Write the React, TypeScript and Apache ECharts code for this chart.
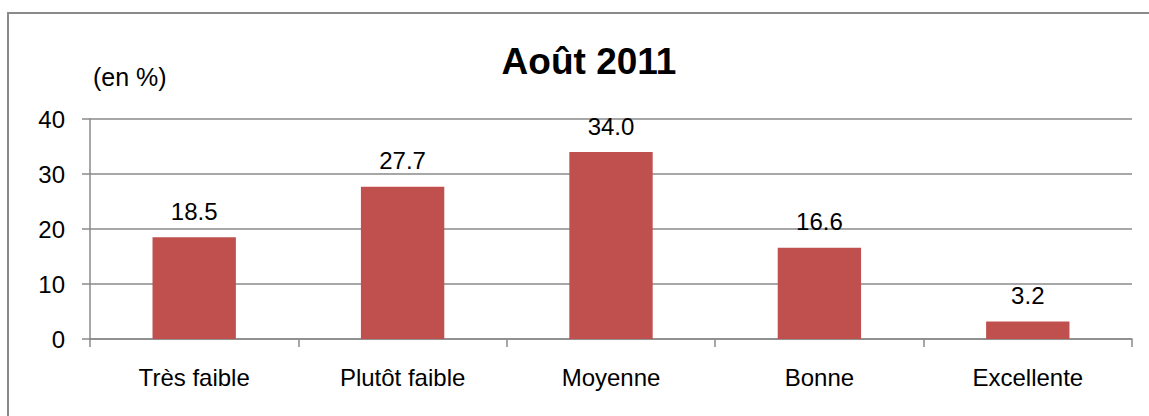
import React, { useEffect, useRef } from "react";
import * as echarts from "echarts";

const titleText = "Août 2011";
const unitText = "(en %)";
const categories = ["Très faible", "Plutôt faible", "Moyenne", "Bonne", "Excellente"];
const values = [18.5, 27.7, 34.0, 16.6, 3.2];
const yTicks = { min: 0, max: 40, interval: 10 };

const FONT = "'Liberation Sans', Arial, sans-serif";

export default function App() {
  const ref = useRef<HTMLDivElement>(null);
  useEffect(() => {
    document.body.style.margin = "0";
    if (!ref.current) return;
    const chart = echarts.init(ref.current, null, { renderer: "svg" });
    chart.setOption({
      animation: false,
      backgroundColor: "#ffffff",
      textStyle: { fontFamily: FONT },
      title: {
        text: titleText,
        left: 584,
        textAlign: "center",
        top: 38,
        textStyle: { fontSize: 37, fontWeight: "bold", color: "#000", fontFamily: FONT },
      },
      graphic: [
        {
          type: "rect",
          shape: { x: 8, y: 13, width: 1300, height: 600 },
          style: { fill: "none", stroke: "#8a8a8a", lineWidth: 2 },
          silent: true,
        },
        {
          type: "text",
          left: 93,
          top: 64,
          style: { text: unitText, fontSize: 25, fill: "#000", fontFamily: FONT },
        },
      ],
      grid: { left: 90, right: 17, top: 119, bottom: 77, containLabel: false },
      xAxis: {
        type: "category",
        data: categories,
        axisLine: { show: true, lineStyle: { color: "#8a8a8a", width: 1.5 } },
        axisTick: { show: true, length: 8, lineStyle: { color: "#8a8a8a", width: 1.5 } },
        axisLabel: { color: "#000", fontSize: 24, margin: 26, fontFamily: FONT },
        splitLine: { show: false },
      },
      yAxis: {
        type: "value",
        min: yTicks.min,
        max: yTicks.max,
        interval: yTicks.interval,
        axisLine: { show: true, lineStyle: { color: "#8a8a8a", width: 1.5 } },
        axisTick: { show: true, length: 8, lineStyle: { color: "#8a8a8a", width: 1.5 } },
        axisLabel: { color: "#000", fontSize: 24, margin: 25, fontFamily: FONT },
        splitLine: { show: true, lineStyle: { color: "#8a8a8a", width: 1.5 } },
      },
      series: [
        {
          type: "bar",
          data: values,
          barWidth: "40%",
          itemStyle: { color: "#C0504D" },
          label: {
            show: true,
            position: "top",
            distance: 14,
            color: "#000",
            fontSize: 24,
            fontFamily: FONT,
            formatter: (p: any) => Number(p.value).toFixed(1),
          },
        },
      ],
    });
    return () => chart.dispose();
  }, []);
  return <div ref={ref} style={{ width: 1149, height: 416 }} />;
}
